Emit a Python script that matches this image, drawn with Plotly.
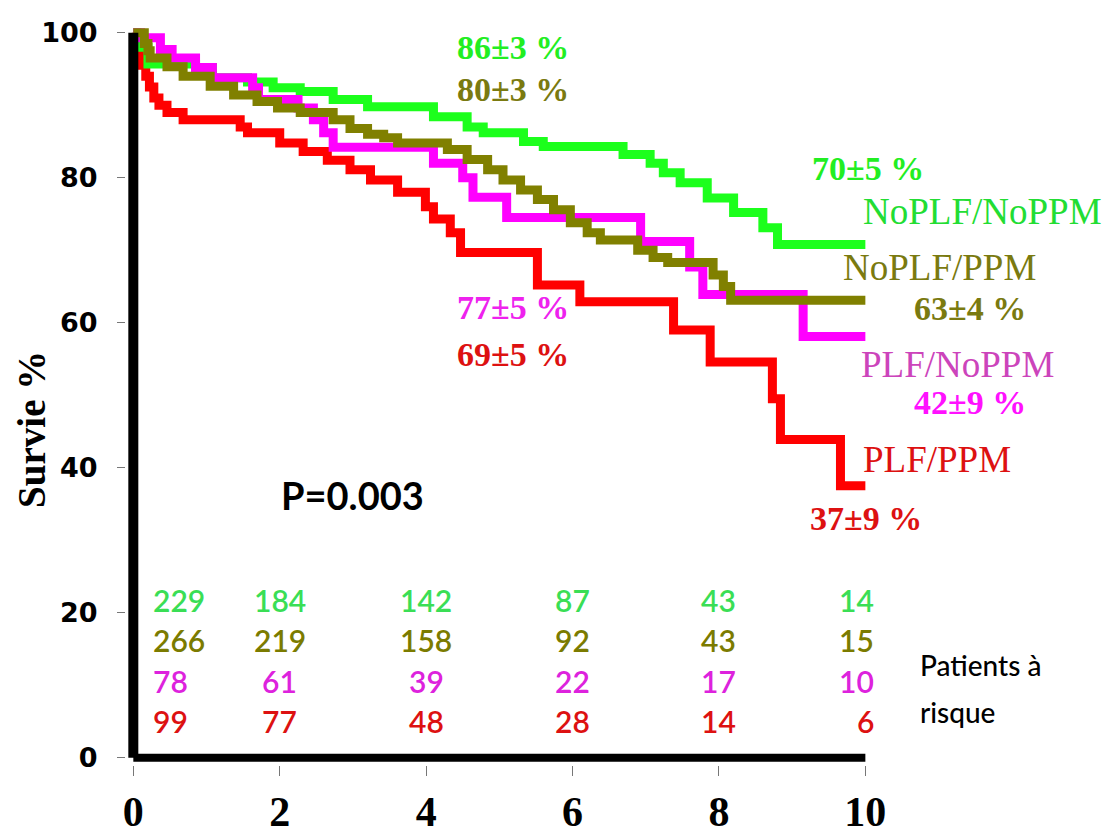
import plotly.graph_objects as go

# Kaplan-Meier survival (years vs % survival) for the four groups
green_t = [0, 0.05, 0.2, 0.85, 1.08, 1.56, 1.91, 2.28, 2.73, 3.2, 4.1, 4.56, 4.78, 5.33, 5.6,
           6.69, 7.06, 7.24, 7.47, 7.84, 8.2, 8.6, 8.8, 10]
green_v = [100, 98, 95.7, 95.2, 93.8, 93.2, 92.4, 91.9, 90.8, 89.8, 88.4, 87, 86.2, 85, 84.3,
           83.2, 82, 80.7, 79.3, 77.2, 75.2, 73.1, 70.8, 70.8]

olive_t = [0, 0.15, 0.2, 0.23, 0.46, 0.68, 1.05, 1.37, 1.69, 1.97, 2.28, 2.73, 2.96, 3.2,
           3.42, 3.61, 4.29, 4.56, 4.84, 5.05, 5.29, 5.52, 5.74, 5.97, 6.2, 6.38, 6.89,
           7.1, 7.3, 7.92, 8.06, 8.16, 10]
olive_v = [100, 98.5, 97.5, 96.5, 95.3, 94, 92.6, 91.4, 90.5, 89.6, 89, 88, 86.8, 86,
           85.5, 84.8, 83.9, 82.5, 81.1, 79.7, 78.3, 77, 75.6, 73.8, 72.4, 71.4, 70,
           69, 68.3, 66.6, 65, 63.1, 63.1]

magenta_t = [0, 0.1, 0.37, 0.53, 0.85, 1.08, 1.63, 1.71, 2.25, 2.46, 2.6, 2.73, 4.1, 4.5,
             4.64, 5.1, 6.93, 7.6, 7.78, 9.15, 10]
magenta_v = [100, 99.3, 97.7, 96.5, 95.2, 93.8, 92.4, 90.8, 89.6, 88, 86.2, 84.2, 82, 80,
             77.3, 74.5, 71.2, 67.7, 63.9, 58.1, 58.1]

red_t = [0, 0.04, 0.08, 0.12, 0.17, 0.22, 0.28, 0.35, 0.46, 0.68, 1.46, 1.56, 2.0, 2.32,
         2.65, 2.96, 3.24, 3.61, 3.99, 4.1, 4.33, 4.47, 5.52, 6.1, 7.38, 7.88, 8.73,
         8.84, 9.66, 10]
red_v = [100, 98.5, 97, 95.5, 94, 92.5, 91, 90, 89, 88, 87, 86.2, 84.8, 83.6,
         82.4, 81.1, 79.7, 78, 76, 74.3, 72.4, 69.7, 65.2, 62.9, 59, 54.6, 49.5,
         43.9, 37.5, 37.5]

# Patients at risk at each tick year
risk_years = [0, 2, 4, 6, 8, 10]
risk_green = [229, 184, 142, 87, 43, 14]
risk_olive = [266, 219, 158, 92, 43, 15]
risk_magenta = [78, 61, 39, 22, 17, 10]
risk_red = [99, 77, 48, 28, 14, 6]

x_ticks = [0, 2, 4, 6, 8, 10]
y_ticks = [0, 20, 40, 60, 80, 100]

X_RANGE = [-0.1, 10.2]
Y_RANGE = [-1, 102.03]

C_GREEN = "#1cff1c"
C_OLIVE = "#808000"
C_MAGENTA = "#ff00ff"
C_RED = "#ff0000"

fig = go.Figure()
for t, v, c in [(red_t, red_v, C_RED), (green_t, green_v, C_GREEN),
                (magenta_t, magenta_v, C_MAGENTA), (olive_t, olive_v, C_OLIVE)]:
    fig.add_trace(go.Scatter(x=t, y=v, mode="lines", line=dict(color=c, width=9, shape="hv"),
                             showlegend=False, hoverinfo="skip"))

# Thick black axis lines
fig.add_shape(type="line", xref="x", yref="y", x0=0, y0=0, x1=0, y1=100,
              line=dict(color="black", width=10), layer="above")
fig.add_shape(type="line", xref="x", yref="y", x0=0, y0=0, x1=10, y1=0,
              line=dict(color="black", width=8), layer="above")

serif = "Liberation Serif"
sans = "Lato"


def px(t):
    """Year value -> paper fraction (works outside the axis range too)."""
    return (t - X_RANGE[0]) / (X_RANGE[1] - X_RANGE[0])


def py(v):
    return (v - Y_RANGE[0]) / (Y_RANGE[1] - Y_RANGE[0])


def note(text, x, y, color, family, size, anchor="center", shift=0, angle=0, weight="normal"):
    fig.add_annotation(x=px(x), y=py(y), xref="paper", yref="paper", text=text,
                       showarrow=False, xanchor=anchor, yanchor="middle", xshift=shift,
                       textangle=angle,
                       font=dict(family=family, size=size, color=color, weight=weight))


VAL = 34   # survival-percentage labels
GRP = 37   # group names

note("<b>86±3 %</b>", 5.18, 97.9, "#22ee22", serif, VAL)
note("<b>80±3 %</b>", 5.18, 92.2, "#7a7a10", serif, VAL)
note("<b>70±5 %</b>", 10.03, 81.3, "#22ee22", serif, VAL)
note("NoPLF/NoPPM", 11.6, 75.3, "#22dd33", serif, GRP)
note("NoPLF/PPM", 11.01, 67.6, "#7a7a10", serif, GRP)
note("<b>63±4 %</b>", 11.43, 61.9, "#7a7a10", serif, VAL)
note("<b>77±5 %</b>", 5.18, 62.1, "#ee22ee", serif, VAL)
note("<b>69±5 %</b>", 5.18, 55.6, "#dd1111", serif, VAL)
note("PLF/NoPPM", 11.26, 54.3, "#cc44bb", serif, GRP)
note("<b>42±9 %</b>", 11.43, 49.0, "#ff11ff", serif, VAL)
note("PLF/PPM", 10.98, 41.1, "#dd1111", serif, GRP)
note("<b>37±9 %</b>", 10.01, 33.0, "#dd1111", serif, VAL)

note("P=0.003", 2.99, 36.3, "black", sans, 38, weight="bold")

# Y axis title
note("<b>Survie %</b>", -1.39, 45.3, "black", serif, 39, angle=-90)

# Number-at-risk table
rows = [(risk_green, 21.8, "#3ade55"), (risk_olive, 16.3, "#7b7b00"),
        (risk_magenta, 10.6, "#dd22dd"), (risk_red, 5.1, "#dd1111")]
for vals, yv, col in rows:
    for yr, n in zip(risk_years, vals):
        if yr == 0:
            anchor, shift = "left", 18
        elif yr == 10:
            anchor, shift = "right", 11
        else:
            anchor, shift = "center", 0
        note(str(n), yr, yv, col, sans, 30, anchor=anchor, shift=shift, weight=600)

note("Patients à", 10.72, 12.8, "black", sans, 28, anchor="left", weight=500)
note("risque", 10.72, 6.3, "black", sans, 28, anchor="left", weight=500)

fig.update_xaxes(range=X_RANGE, tickvals=x_ticks, ticktext=[str(v) for v in x_ticks],
                 ticks="outside", ticklen=10, tickwidth=1, tickcolor="#777777",
                 showgrid=False, zeroline=False, showline=False,
                 automargin=False,
                 tickfont=dict(family=serif, size=42, color="black", weight="bold"))
fig.update_yaxes(range=Y_RANGE, tickvals=y_ticks, ticktext=[str(v) for v in y_ticks],
                 ticks="outside", ticklen=8, tickwidth=1, tickcolor="#777777",
                 showgrid=False, zeroline=False, showline=False, ticklabelstandoff=14,
                 automargin=False,
                 tickfont=dict(family="DejaVu Sans", size=27, color="black", weight="bold"))

fig.update_layout(width=1117, height=834, margin=dict(l=126, r=237, t=18, b=69),
                  plot_bgcolor="white", paper_bgcolor="white")

fig.write_html("out.html")
